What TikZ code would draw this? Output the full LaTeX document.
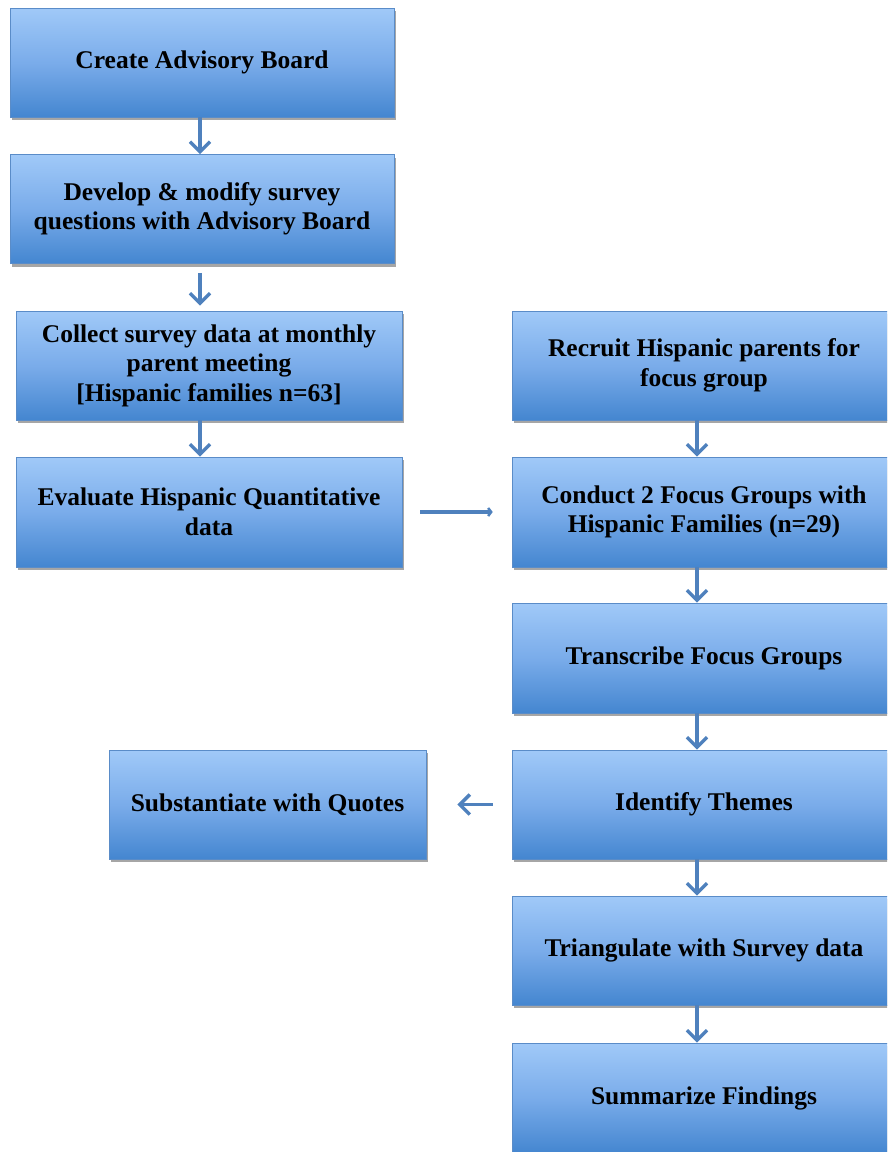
\documentclass[tikz,border=0pt]{standalone}
\usepackage{fontspec}
\setmainfont{Liberation Serif}
\usetikzlibrary{shadows,arrows.meta,calc}
\definecolor{boxtop}{RGB}{160,201,248}
\definecolor{boxmid}{RGB}{122,172,234}
\definecolor{boxbot}{RGB}{68,134,208}
\definecolor{boxline}{RGB}{90,140,200}
\definecolor{arr}{RGB}{79,129,189}
\tikzset{
  flowbox/.style={rectangle, draw=boxline, line width=0.6pt,
    top color=boxtop, bottom color=boxbot, middle color=boxmid,
    minimum height=109pt, inner sep=0pt, align=center,
    font=\bfseries\fontsize{25.5}{29.5}\selectfont, text=black,
    drop shadow={shadow xshift=1.5pt, shadow yshift=-3pt, opacity=0.35, fill=black}},
  leftbox/.style={flowbox, minimum width=384pt},
  rightbox/.style={flowbox, minimum width=384pt},
  flowarrow/.style={draw=arr, line width=3.5pt,
    -{Straight Barb[length=10pt,width=20pt,line width=3.5pt]}},
  thinarrow/.style={draw=arr, line width=3.5pt,
    -{Straight Barb[length=3pt,width=8pt,line width=2.5pt]}}
}
\begin{document}
\begin{tikzpicture}[x=1pt,y=-1pt]
\useasboundingbox (0,0) rectangle (887,1152);
\clip (0,0) rectangle (887,1152);
\node[leftbox] (create) at (202,62.5) {\raisebox{-2pt}{Create Advisory Board}};
\node[leftbox] (develop) at (202,209) {Develop \& modify survey\\questions with Advisory Board};
\node[leftbox, minimum width=386pt] (collect) at (209,365.5) {Collect survey data at monthly\\parent meeting\\{[}Hispanic families n=63{]}};
\node[leftbox, minimum width=386pt, minimum height=110pt] (evaluate) at (209,512) {Evaluate Hispanic Quantitative\\data};
\node[rightbox] (recruit) at (704,365.5) {Recruit Hispanic parents for\\focus group};
\node[rightbox, minimum height=110pt] (conduct) at (704,512) {Conduct 2 Focus Groups with\\Hispanic Families (n=29)};
\node[rightbox, minimum height=110pt] (transcribe) at (704,658) {Transcribe Focus Groups};
\node[rightbox] (identify) at (704,804.5) {Identify Themes};
\node[flowbox, minimum width=317pt] (subst) at (267.5,804.5) {Substantiate with Quotes};
\node[rightbox] (triang) at (704,950.5) {Triangulate with Survey data};
\node[rightbox, minimum height=110pt] (summ) at (704,1098) {Summarize Findings};

\draw[flowarrow] ($(create.south)+(-2,0)$) -- ($(create.south |- develop.north)+(-2,0)$);
\draw[flowarrow, shorten <=9pt, shorten >=5pt] ($(develop.south)+(-2,0)$) -- ($(develop.south |- collect.north)+(-2,0)$);
\draw[flowarrow] ($(collect.south)+(-9,0)$) -- ($(collect.south |- evaluate.north)+(-9,0)$);
\draw[thinarrow, shorten <=18pt, shorten >=19pt] (evaluate.east |- conduct.west) -- (conduct.west);
\draw[flowarrow] ($(recruit.south)+(-7,0)$) -- ($(recruit.south |- conduct.north)+(-7,0)$);
\draw[flowarrow] ($(conduct.south)+(-7,0)$) -- ($(conduct.south |- transcribe.north)+(-7,0)$);
\draw[flowarrow] ($(transcribe.south)+(-7,0)$) -- ($(transcribe.south |- identify.north)+(-7,0)$);
\draw[flowarrow, shorten <=19pt, shorten >=31pt] (identify.west) -- (subst.east);
\draw[flowarrow] ($(identify.south)+(-7,0)$) -- ($(identify.south |- triang.north)+(-7,0)$);
\draw[flowarrow] ($(triang.south)+(-7,0)$) -- ($(triang.south |- summ.north)+(-7,0)$);
\end{tikzpicture}
\end{document}
